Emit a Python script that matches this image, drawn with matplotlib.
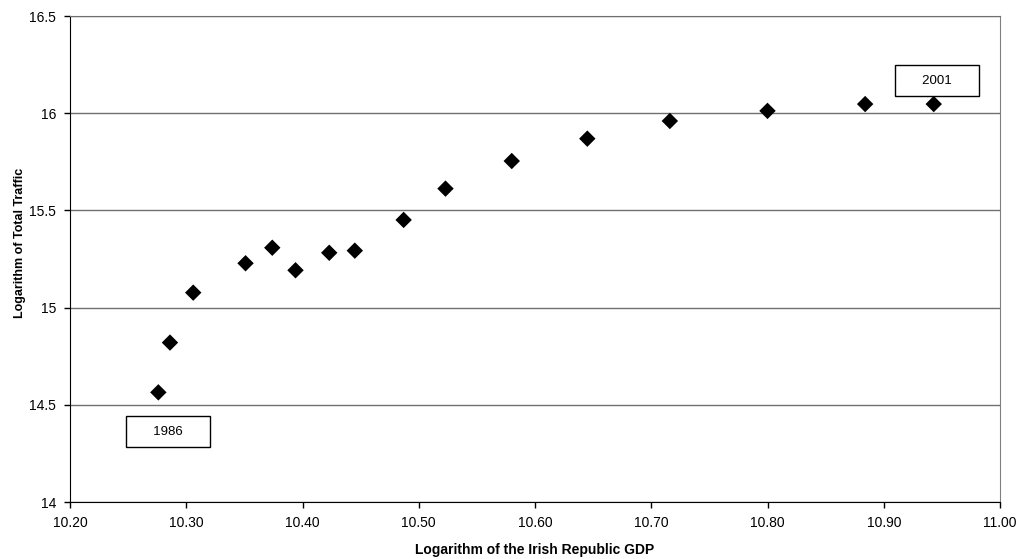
import matplotlib.pyplot as plt

plt.rcParams['font.family'] = ['Liberation Sans', 'DejaVu Sans']

# log GDP (x) and log total traffic (y), 1986 - 2001
years = list(range(1986, 2002))
log_gdp = [10.276, 10.286, 10.306, 10.351, 10.374, 10.394, 10.423, 10.445,
           10.487, 10.523, 10.580, 10.645, 10.716, 10.800, 10.884, 10.943]
log_traffic = [14.564, 14.820, 15.077, 15.228, 15.308, 15.192, 15.282, 15.293,
               15.451, 15.612, 15.754, 15.869, 15.960, 16.012, 16.047, 16.047]

y_ticks = [14, 14.5, 15, 15.5, 16, 16.5]
y_ticklabels = ['14', '14.5', '15', '15.5', '16', '16.5']
x_ticks = [10.2, 10.3, 10.4, 10.5, 10.6, 10.7, 10.8, 10.9, 11.0]

fig = plt.figure(figsize=(10.21, 5.59), dpi=100)
ax = fig.add_axes([70 / 1021, 57 / 559, 930 / 1021, 486 / 559])

ax.scatter(log_gdp, log_traffic, marker='D', s=70, color='black',
           edgecolors='none', zorder=3)

ax.set_xlim(10.2, 11.0)
ax.set_ylim(14, 16.5)
ax.set_xticks(x_ticks)
ax.set_xticklabels([f'{v:.2f}' for v in x_ticks])
ax.set_yticks(y_ticks)
ax.set_yticklabels(y_ticklabels)
ax.tick_params(direction='out', length=4, width=1, labelsize=10, pad=6)

ax.yaxis.grid(True, color='#707070', linewidth=1)
ax.set_axisbelow(True)
ax.spines['left'].set_color('black')
ax.spines['bottom'].set_color('black')
ax.spines['right'].set_color('#808080')
ax.spines['top'].set_color('#707070')

ax.set_xlabel('Logarithm of the Irish Republic GDP', fontsize=10,
              fontweight='bold')
ax.set_ylabel('Logarithm of Total Traffic', fontsize=9, fontweight='bold')
ax.xaxis.set_label_coords(0.5, -0.084)
ax.yaxis.set_label_coords(-0.047, 0.533)

# year call-outs for first and last point
box = dict(boxstyle='square,pad=0.7', facecolor='white', edgecolor='black',
           linewidth=1)
ax.text(10.2845, 14.362, '     1986     ', ha='center', va='center',
        fontsize=9.5, bbox=box)
ax.text(10.946, 16.168, '     2001     ', ha='center', va='center',
        fontsize=9.5, bbox=box)

fig.savefig('out.png', dpi=100)
